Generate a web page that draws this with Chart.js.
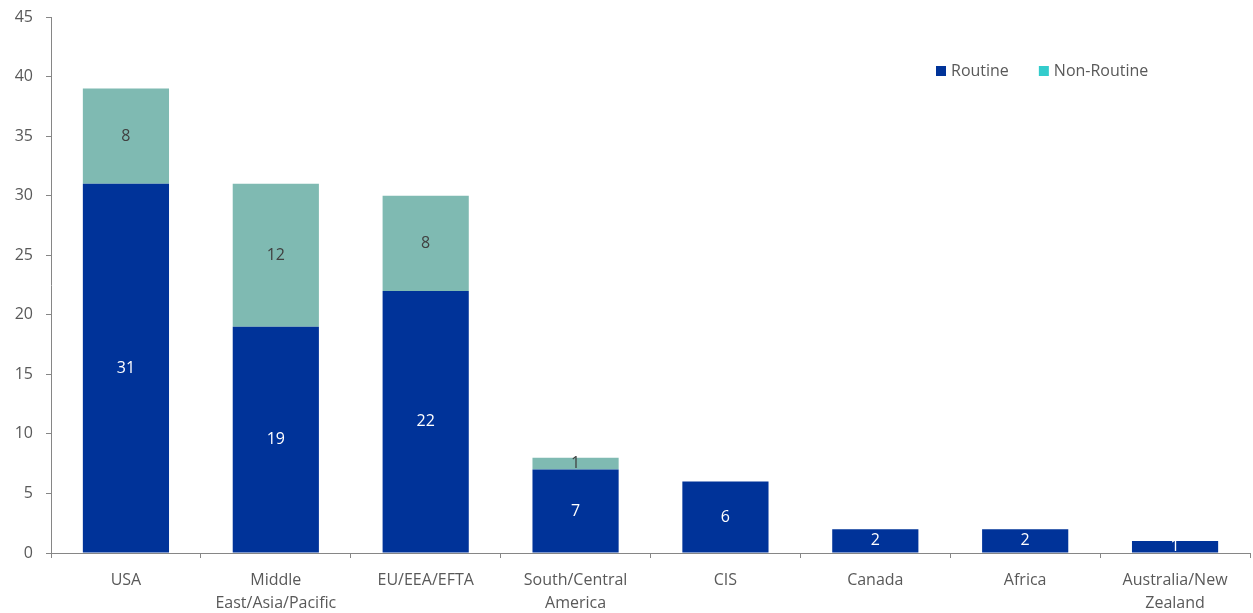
<!DOCTYPE html>
<html>
<head>
<meta charset="utf-8">
<script src="https://cdn.jsdelivr.net/npm/chart.js@4/dist/chart.umd.min.js"></script>
<style>
  html, body { margin: 0; padding: 0; background: #fff; }
  #wrap { width: 1253px; height: 613px; }
</style>
</head>
<body>
<div id="wrap"><canvas id="chart" width="1253" height="613"></canvas></div>
<script>
const regions = ['USA', ['Middle', 'East/Asia/Pacific'], 'EU/EEA/EFTA', ['South/Central', 'America'], 'CIS', 'Canada', 'Africa', ['Australia/New', 'Zealand']];
const routine = [31, 19, 22, 7, 6, 2, 2, 1];
const nonRoutine = [8, 12, 8, 1, null, null, null, null];
const yTicks = [0, 5, 10, 15, 20, 25, 30, 35, 40, 45];

const FONT = '"Open Sans", "Noto Sans", sans-serif';
const textGray = '#595959';

// numbers in the middle of each stacked segment
const segmentLabels = {
  id: 'segmentLabels',
  afterDatasetsDraw(chart) {
    const ctx = chart.ctx;
    ctx.save();
    ctx.font = '16px ' + FONT;
    ctx.textAlign = 'center';
    ctx.textBaseline = 'middle';
    chart.data.datasets.forEach((ds, i) => {
      chart.getDatasetMeta(i).data.forEach((bar, j) => {
        const v = ds.data[j];
        if (v == null) return;
        ctx.fillStyle = ds.labelColor;
        ctx.fillText(String(v), bar.x, (bar.y + bar.base) / 2);
      });
    });
    ctx.restore();
  }
};

// legend sits inside the plot, upper right
const innerLegend = {
  id: 'innerLegend',
  afterDraw(chart) {
    const ctx = chart.ctx;
    ctx.save();
    ctx.font = '16px ' + FONT;
    ctx.textBaseline = 'middle';
    let x = 936;
    const y = 71;
    chart.data.datasets.forEach(ds => {
      ctx.fillStyle = ds.legendColor;
      ctx.fillRect(x, y - 5, 10, 10);
      ctx.fillStyle = textGray;
      ctx.fillText(ds.label, x + 15, y);
      x += 15 + ctx.measureText(ds.label).width + 30;
    });
    ctx.restore();
  }
};

new Chart(document.getElementById('chart'), {
  type: 'bar',
  data: {
    labels: regions,
    datasets: [
      {
        label: 'Routine',
        data: routine,
        backgroundColor: '#003399',
        legendColor: '#003399',
        labelColor: '#ffffff',
        categoryPercentage: 1,
        barPercentage: 0.575
      },
      {
        label: 'Non-Routine',
        data: nonRoutine,
        backgroundColor: '#7fbab2',
        legendColor: '#33cccc',
        labelColor: '#404040',
        categoryPercentage: 1,
        barPercentage: 0.575
      }
    ]
  },
  options: {
    responsive: false,
    animation: false,
    layout: { padding: { top: 17, right: 3, left: 0, bottom: 0 } },
    plugins: {
      legend: { display: false },
      tooltip: { enabled: false }
    },
    scales: {
      x: {
        stacked: true,
        afterFit(axis) { axis.height = 60; },
        grid: {
          offset: true,
          drawOnChartArea: false,
          color: '#868686',
          tickLength: 5
        },
        border: { color: '#868686', width: 1 },
        ticks: {
          color: textGray,
          font: { family: FONT, size: 16, lineHeight: 1.45 },
          padding: 11,
          maxRotation: 0,
          autoSkip: false
        }
      },
      y: {
        stacked: true,
        min: 0,
        max: 45,
        afterFit(axis) {
          axis.width = 51;
          axis.paddingTop = 0;
          axis.paddingBottom = 0;
        },
        afterBuildTicks(axis) {
          axis.ticks = yTicks.map(v => ({ value: v }));
        },
        grid: {
          drawOnChartArea: false,
          color: '#868686',
          tickLength: 5
        },
        border: { color: '#868686', width: 1 },
        ticks: {
          color: textGray,
          font: { family: FONT, size: 16 },
          padding: 13
        }
      }
    }
  },
  plugins: [segmentLabels, innerLegend]
});
</script>
</body>
</html>
